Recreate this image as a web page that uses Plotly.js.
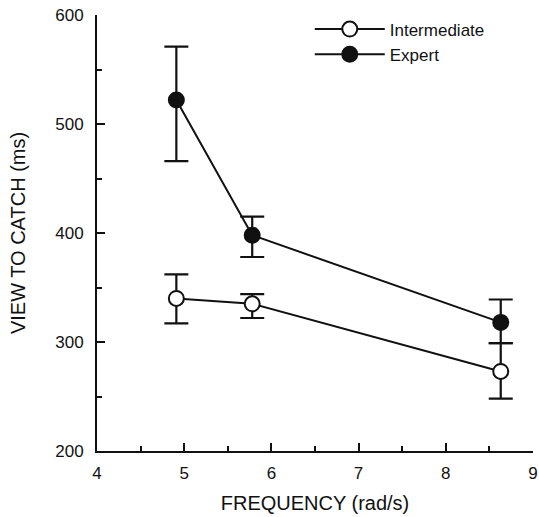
<!DOCTYPE html>
<html>
<head>
<meta charset="utf-8">
<script src="https://cdn.plot.ly/plotly-3.0.1.min.js"></script>
<style>
  html, body { margin: 0; padding: 0; background: #fff; }
  #chart { width: 539px; height: 517px; }
</style>
</head>
<body>
<div id="chart"></div>
<script>
// Data
const frequency = [4.91, 5.78, 8.63];

const intermediateMean = [340, 335, 273];
const intermediateUpper = [362, 344, 299];
const intermediateLower = [317, 322, 248];

const expertMean = [522, 398, 318];
const expertUpper = [571, 415, 339];
const expertLower = [466, 378, 299];

const xTickVals = [4, 5, 6, 7, 8, 9];
const yTickVals = [200, 300, 400, 500, 600];

function diff(a, b) { return a.map((v, i) => v - b[i]); }

const FONT = 'Liberation Sans, Arial, Helvetica, sans-serif';

const intermediate = {
  type: 'scatter', mode: 'lines+markers', name: 'Intermediate',
  x: frequency, y: intermediateMean,
  line: { color: '#111', width: 2 },
  marker: { size: 15, color: '#fff', line: { color: '#111', width: 2 } },
  error_y: {
    type: 'data', symmetric: false,
    array: diff(intermediateUpper, intermediateMean),
    arrayminus: diff(intermediateMean, intermediateLower),
    color: '#111', thickness: 2.2, width: 12
  }
};

const expert = {
  type: 'scatter', mode: 'lines+markers', name: 'Expert',
  x: frequency, y: expertMean,
  line: { color: '#111', width: 2 },
  marker: { size: 15, color: '#111', line: { color: '#111', width: 2 } },
  error_y: {
    type: 'data', symmetric: false,
    array: diff(expertUpper, expertMean),
    arrayminus: diff(expertMean, expertLower),
    color: '#111', thickness: 2.2, width: 12
  }
};

const layout = {
  width: 539, height: 517,
  margin: { l: 97, r: 6, t: 13, b: 66 },
  paper_bgcolor: '#fff', plot_bgcolor: '#fff',
  font: { family: FONT, color: '#111', size: 17 },
  showlegend: true,
  legend: {
    x: 0.488, y: 1.008, xanchor: 'left', yanchor: 'top',
    bgcolor: 'rgba(0,0,0,0)', font: { size: 17, family: FONT, color: '#111' },
    tracegroupgap: 0, itemwidth: 70
  },
  xaxis: {
    range: [4, 9], tickvals: xTickVals, ticktext: xTickVals.map(String),
    showgrid: false, zeroline: false,
    showline: true, linecolor: '#111', linewidth: 2,
    ticks: 'inside', ticklen: 8, tickwidth: 2, tickcolor: '#111',
    minor: { dtick: 0.5, ticks: 'inside', ticklen: 5, tickwidth: 2, tickcolor: '#111', showgrid: false },
    ticklabelstandoff: 6, ticklabeloverflow: 'allow',
    tickfont: { size: 17, family: FONT, color: '#111' },
    title: { text: 'FREQUENCY (rad/s)', font: { size: 20, family: FONT, color: '#111' }, standoff: 14 },
    automargin: false
  },
  yaxis: {
    range: [200, 600], tickvals: yTickVals, ticktext: yTickVals.map(String),
    showgrid: false, zeroline: false,
    showline: true, linecolor: '#111', linewidth: 2,
    ticks: 'inside', ticklen: 8, tickwidth: 2, tickcolor: '#111',
    minor: { dtick: 50, ticks: 'inside', ticklen: 5, tickwidth: 2, tickcolor: '#111', showgrid: false },
    ticklabelstandoff: 8,
    tickfont: { size: 17, family: FONT, color: '#111' },
    title: { text: 'VIEW TO CATCH (ms)', font: { size: 20, family: FONT, color: '#111' }, standoff: 24 },
    automargin: true
  }
};

Plotly.newPlot('chart', [intermediate, expert], layout, { displayModeBar: false, staticPlot: true });
</script>
</body>
</html>
